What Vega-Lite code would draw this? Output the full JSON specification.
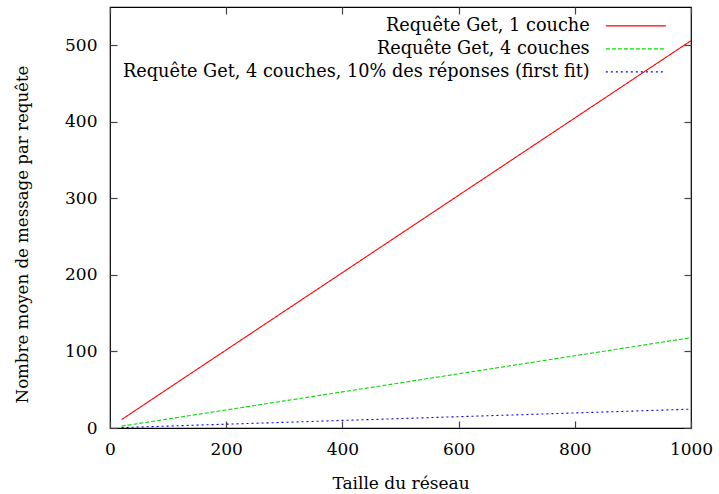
{
  "$schema": "https://vega.github.io/schema/vega-lite/v6.json",
  "width": 581,
  "height": 421,
  "padding": {"left": 110, "top": 7, "right": 28, "bottom": 66},
  "autosize": {"type": "none"},
  "background": "white",
  "config": {
    "font": "DejaVu Serif",
    "view": {"stroke": "black", "strokeWidth": 1.2},
    "axis": {
      "labelFont": "DejaVu Serif",
      "titleFont": "DejaVu Serif",
      "labelFontSize": 17,
      "titleFontSize": 17,
      "titleFontWeight": "normal",
      "labelColor": "black",
      "titleColor": "black",
      "grid": false,
      "domain": false,
      "labelFlush": false,
      "tickSize": -7,
      "tickColor": "#444",
      "tickWidth": 1.2
    },
    "legend": {
      "labelFont": "DejaVu Serif",
      "labelFontSize": 17.7,
      "labelColor": "black"
    }
  },
  "data": {
    "values": [
      {"serie": "Requête Get, 1 couche", "taille": 20, "msg": 11},
      {"serie": "Requête Get, 1 couche", "taille": 100, "msg": 51.5},
      {"serie": "Requête Get, 1 couche", "taille": 200, "msg": 102},
      {"serie": "Requête Get, 1 couche", "taille": 300, "msg": 152.5},
      {"serie": "Requête Get, 1 couche", "taille": 400, "msg": 203},
      {"serie": "Requête Get, 1 couche", "taille": 500, "msg": 253.5},
      {"serie": "Requête Get, 1 couche", "taille": 600, "msg": 304},
      {"serie": "Requête Get, 1 couche", "taille": 700, "msg": 354.5},
      {"serie": "Requête Get, 1 couche", "taille": 800, "msg": 405},
      {"serie": "Requête Get, 1 couche", "taille": 900, "msg": 455.5},
      {"serie": "Requête Get, 1 couche", "taille": 1000, "msg": 506},
      {"serie": "Requête Get, 4 couches", "taille": 20, "msg": 2.4},
      {"serie": "Requête Get, 4 couches", "taille": 100, "msg": 11.8},
      {"serie": "Requête Get, 4 couches", "taille": 200, "msg": 23.6},
      {"serie": "Requête Get, 4 couches", "taille": 300, "msg": 35.4},
      {"serie": "Requête Get, 4 couches", "taille": 400, "msg": 47.2},
      {"serie": "Requête Get, 4 couches", "taille": 500, "msg": 59},
      {"serie": "Requête Get, 4 couches", "taille": 600, "msg": 70.8},
      {"serie": "Requête Get, 4 couches", "taille": 700, "msg": 82.6},
      {"serie": "Requête Get, 4 couches", "taille": 800, "msg": 94.4},
      {"serie": "Requête Get, 4 couches", "taille": 900, "msg": 106.2},
      {"serie": "Requête Get, 4 couches", "taille": 1000, "msg": 118},
      {"serie": "Requête Get, 4 couches, 10% des réponses (first fit)", "taille": 20, "msg": 0.5},
      {"serie": "Requête Get, 4 couches, 10% des réponses (first fit)", "taille": 100, "msg": 2.5},
      {"serie": "Requête Get, 4 couches, 10% des réponses (first fit)", "taille": 200, "msg": 5},
      {"serie": "Requête Get, 4 couches, 10% des réponses (first fit)", "taille": 300, "msg": 7.4},
      {"serie": "Requête Get, 4 couches, 10% des réponses (first fit)", "taille": 400, "msg": 9.9},
      {"serie": "Requête Get, 4 couches, 10% des réponses (first fit)", "taille": 500, "msg": 12.3},
      {"serie": "Requête Get, 4 couches, 10% des réponses (first fit)", "taille": 600, "msg": 14.8},
      {"serie": "Requête Get, 4 couches, 10% des réponses (first fit)", "taille": 700, "msg": 17.2},
      {"serie": "Requête Get, 4 couches, 10% des réponses (first fit)", "taille": 800, "msg": 19.7},
      {"serie": "Requête Get, 4 couches, 10% des réponses (first fit)", "taille": 900, "msg": 22.1},
      {"serie": "Requête Get, 4 couches, 10% des réponses (first fit)", "taille": 1000, "msg": 24.6}
    ]
  },
  "layer": [
    {
      "mark": {"type": "line", "strokeWidth": 1.1},
      "encoding": {
        "x": {
          "field": "taille", "type": "quantitative",
          "scale": {"domain": [0, 1000], "nice": false, "zero": false},
          "axis": {"title": "Taille du réseau", "format": "d", "values": [0, 200, 400, 600, 800, 1000], "labelPadding": 20, "titlePadding": 18, "orient": "bottom"}
        },
        "y": {
          "field": "msg", "type": "quantitative",
          "scale": {"domain": [0, 550], "nice": false},
          "axis": {"title": "Nombre moyen de message par requête", "values": [0, 100, 200, 300, 400, 500], "labelPadding": 20, "titlePadding": 34, "titleY": 227, "titleFontSize": 16.6, "orient": "left"}
        },
        "color": {
          "field": "serie", "type": "nominal",
          "sort": ["Requête Get, 1 couche", "Requête Get, 4 couches", "Requête Get, 4 couches, 10% des réponses (first fit)"],
          "scale": {
            "domain": ["Requête Get, 1 couche", "Requête Get, 4 couches", "Requête Get, 4 couches, 10% des réponses (first fit)"],
            "range": ["#ff0000", "#00dd00", "#0000ff"]
          },
          "legend": {
            "title": null,
            "orient": "none",
            "legendX": 517,
            "legendY": 10,
            "symbolType": "M-5,0H5",
            "symbolSize": 144,
            "symbolStrokeWidth": 1.2,
            "labelAlign": "right",
            "labelOffset": -55,
            "labelLimit": 1000,
            "rowPadding": 4
          }
        },
        "strokeDash": {
          "field": "serie", "type": "nominal",
          "sort": ["Requête Get, 1 couche", "Requête Get, 4 couches", "Requête Get, 4 couches, 10% des réponses (first fit)"],
          "scale": {
            "domain": ["Requête Get, 1 couche", "Requête Get, 4 couches", "Requête Get, 4 couches, 10% des réponses (first fit)"],
            "range": [[1, 0], [4, 2], [2, 3]]
          },
          "legend": null
        }
      }
    },
    {
      "mark": {"type": "line", "opacity": 0},
      "encoding": {
        "x": {"field": "taille", "type": "quantitative", "axis": {"orient": "top", "labels": false, "title": null, "values": [0, 200, 400, 600, 800, 1000]}},
        "y": {"field": "msg", "type": "quantitative", "axis": {"orient": "right", "labels": false, "title": null, "values": [0, 100, 200, 300, 400, 500]}},
        "detail": {"field": "serie"}
      }
    }
  ],
  "resolve": {"axis": {"x": "independent", "y": "independent"}}
}
